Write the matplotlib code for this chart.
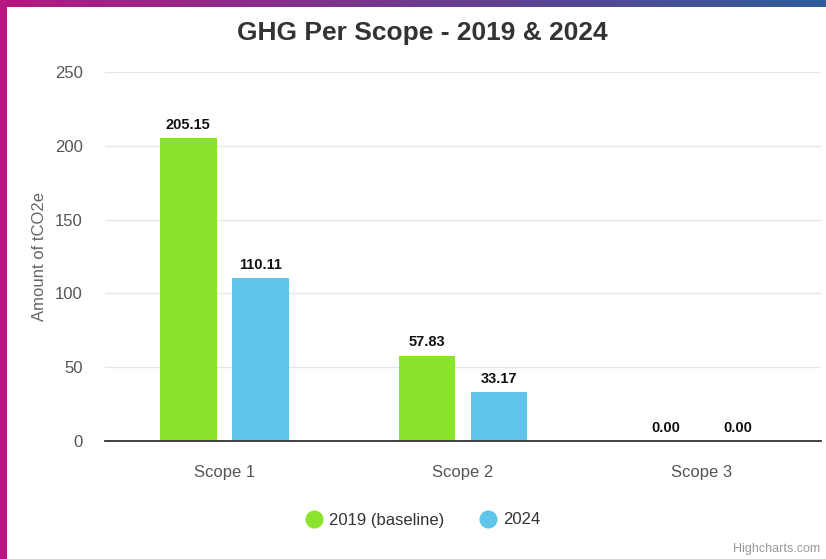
import numpy as np
import matplotlib
matplotlib.use("Agg")
import matplotlib.pyplot as plt
from matplotlib.colors import LinearSegmentedColormap

plt.rcParams['font.family'] = ['Liberation Sans', 'DejaVu Sans']

# data
scopes = ["Scope 1", "Scope 2", "Scope 3"]
series_names = ["2019 (baseline)", "2024"]
values_2019 = [205.15, 57.83, 0.00]
values_2024 = [110.11, 33.17, 0.00]
y_ticks = [0, 50, 100, 150, 200, 250]

green = "#8ae42c"
blue = "#60c5ea"

W, H = 826, 559
fig = plt.figure(figsize=(W / 100, H / 100), dpi=100)

# frame: gradient bar on top, magenta bar on the left
grad_ax = fig.add_axes([0, 1 - 7 / H, 1, 7 / H])
cmap = LinearSegmentedColormap.from_list("frame", ["#b5177f", "#6e3a8e", "#2f5e9a"])
grad_ax.imshow(np.linspace(0, 1, 256).reshape(1, -1), aspect="auto", cmap=cmap)
grad_ax.axis("off")
left_ax = fig.add_axes([0, 0, 7 / W, 1])
left_ax.set_facecolor("#b5177f")
left_ax.set_xticks([])
left_ax.set_yticks([])
for s in left_ax.spines.values():
    s.set_visible(False)

ax = fig.add_axes([105 / W, (H - 441) / H, (821 - 105) / W, (441 - 72) / H])

x = np.arange(len(scopes))
bw = 0.2375
off = 0.151
b1 = ax.bar(x - off, values_2019, bw, color=green, zorder=3)
b2 = ax.bar(x + off, values_2024, bw, color=blue, zorder=3)

for bars in (b1, b2):
    for r in bars:
        v = r.get_height()
        ax.annotate("%.2f" % v, (r.get_x() + r.get_width() / 2, v),
                    xytext=(0, 4.5), textcoords="offset points",
                    ha="center", va="bottom", fontsize=10.5,
                    fontweight="bold", color="#111111")

ax.set_xlim(-0.5, 2.5)
ax.set_ylim(0, 250)
ax.set_yticks(y_ticks)
ax.set_yticklabels([str(t) for t in y_ticks], fontsize=12, color="#555555")
ax.set_xticks(x)
ax.set_xticklabels(scopes, fontsize=12, color="#555555")
ax.tick_params(axis="both", length=0)
ax.tick_params(axis="y", pad=16)
ax.tick_params(axis="x", pad=17)
ax.grid(axis="y", color="#e6e6e6", linewidth=1, zorder=0)
for s in ["top", "right", "left"]:
    ax.spines[s].set_visible(False)
ax.spines["bottom"].set_color("#333333")
ax.spines["bottom"].set_linewidth(1.3)
ax.spines["bottom"].set_zorder(4)
ax.set_ylabel("Amount of tCO2e", fontsize=12, color="#666666", labelpad=6)

fig.text(422 / W, 1 - 33 / H, "GHG Per Scope - 2019 & 2024", ha="center", va="center",
         fontsize=19, fontweight="bold", color="#333333")

# legend
leg = fig.legend(handles=[plt.Line2D([], [], marker="o", ls="", color=green, markersize=12),
                          plt.Line2D([], [], marker="o", ls="", color=blue, markersize=12)],
                 labels=series_names, loc="center", bbox_to_anchor=(422 / W, 1 - 520 / H),
                 ncol=2, frameon=False, fontsize=12, handletextpad=0.3, columnspacing=2.0,
                 handlelength=1.2)
for t in leg.get_texts():
    t.set_color("#333333")

fig.text(820 / W, 1 - 549 / H, "Highcharts.com", ha="right", va="center",
         fontsize=9, color="#999999")

fig.savefig("out.png", dpi=100)
